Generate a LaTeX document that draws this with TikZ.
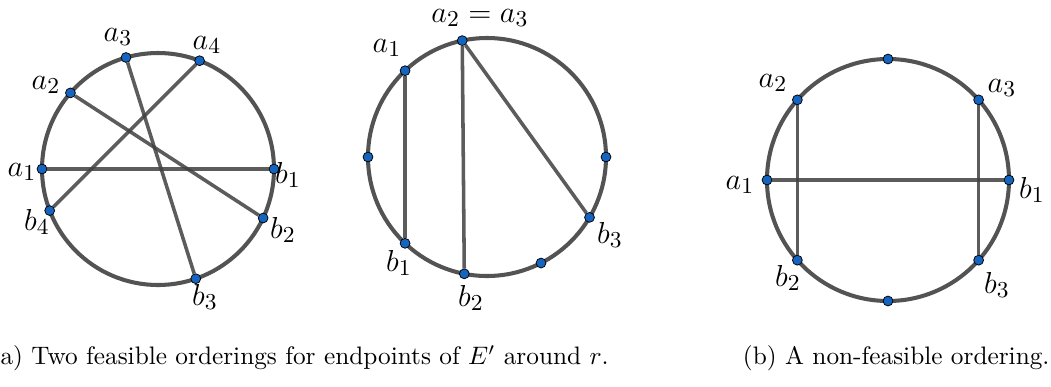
\documentclass[tikz,border=0pt]{standalone}
\usepackage{tikz}
\usetikzlibrary{calc}
\definecolor{rimgray}{RGB}{64,64,64}
\definecolor{dotblue}{RGB}{21,101,192}

\begin{document}
\begin{tikzpicture}[
    x=0.0139cm, y=0.0139cm,
    rim/.style={line width=1.6pt, draw=rimgray, opacity=0.9},
    chord/.style={line width=1.4pt, draw=rimgray, opacity=0.85},
    dot/.style={circle, draw=black, line width=0.3pt, fill=dotblue, inner sep=0pt, minimum size=3.9pt},
    lbl/.style={font=\fontsize{13}{15}\selectfont, inner sep=0pt},
    caption/.style={font=\normalsize, inner sep=0pt}
]
\useasboundingbox (0,0) rectangle (1051,386);

% left circle
\coordinate (L) at (158,217);
\draw[rim] (L) circle (116);
\node[dot] (La1) at ($(L)+(180:116)$) {};
\node[dot] (La2) at ($(L)+(139:116)$) {};
\node[dot] (La3) at ($(L)+(106:116)$) {};
\node[dot] (La4) at ($(L)+(69:116)$) {};
\node[dot] (Lb1) at ($(L)+(0:116)$) {};
\node[dot] (Lb2) at ($(L)+(335:116)$) {};
\node[dot] (Lb3) at ($(L)+(289:116)$) {};
\node[dot] (Lb4) at ($(L)+(201:116)$) {};
\draw[chord] (La1) -- (Lb1);
\draw[chord] (La2) -- (Lb2);
\draw[chord] (La3) -- (Lb3);
\draw[chord] (La4) -- (Lb4);
\node[lbl] (tLa1) at (22,214) {$a_1$};
\node[lbl] (tLa2) at (46,301) {$a_2$};
\node[lbl] (tLa3) at (118,349) {$a_3$};
\node[lbl] (tLa4) at (207,341) {$a_4$};
\node[lbl] (tLb1) at (288,211) {$b_1$};
\node[lbl] (tLb2) at (283,156) {$b_2$};
\node[lbl] (tLb3) at (205,89) {$b_3$};
\node[lbl] (tLb4) at (37,164) {$b_4$};

% middle circle
\coordinate (M) at (487,229);
\draw[rim] (M) circle (119);
\node[dot] (Ma1) at ($(M)+(133.5:119)$) {};
\node[dot] (Ma2) at ($(M)+(102:119)$) {};
\node[dot] (Mb1) at ($(M)+(226.5:119)$) {};
\node[dot] (Mb2) at ($(M)+(259:119)$) {};
\node[dot] (Mb3) at ($(M)+(329.5:119)$) {};
\node[dot] (Mw) at ($(M)+(180:119)$) {};
\node[dot] (Me) at ($(M)+(0:119)$) {};
\node[dot] (Ms) at ($(M)+(297:119)$) {};
\draw[chord] (Ma1) -- (Mb1);
\draw[chord] (Ma2) -- (Mb2);
\draw[chord] (Ma2) -- (Mb3);
\node[lbl] (tMa1) at (387,338) {$a_1$};
\node[lbl] (tMa2) at (480,368) {$a_2=a_3$};
\node[lbl] (tMb1) at (399,123) {$b_1$};
\node[lbl] (tMb2) at (471,88) {$b_2$};
\node[lbl] (tMb3) at (610,151) {$b_3$};

% right circle
\coordinate (R) at (888,206);
\draw[rim] (R) circle (121);
\node[dot] (Ra1) at ($(R)+(180:121)$) {};
\node[dot] (Ra2) at ($(R)+(138.5:121)$) {};
\node[dot] (Ra3) at ($(R)+(41.5:121)$) {};
\node[dot] (Rb1) at ($(R)+(0:121)$) {};
\node[dot] (Rb2) at ($(R)+(221.5:121)$) {};
\node[dot] (Rb3) at ($(R)+(318.5:121)$) {};
\node[dot] (Rn) at ($(R)+(90:121)$) {};
\node[dot] (Rs) at ($(R)+(270:121)$) {};
\draw[chord] (Ra1) -- (Rb1);
\draw[chord] (Ra2) -- (Rb2);
\draw[chord] (Ra3) -- (Rb3);
\node[lbl] (tRa1) at (740,201) {$a_1$};
\node[lbl] (tRa2) at (773,303) {$a_2$};
\node[lbl] (tRa3) at (1002,298) {$a_3$};
\node[lbl] (tRb1) at (1032,196) {$b_1$};
\node[lbl] (tRb2) at (788,108) {$b_2$};
\node[lbl] (tRb3) at (997,101) {$b_3$};

% captions
\node[caption, anchor=west] (capa) at (0,28) {a) Two feasible orderings for endpoints of $E'$ around $r$.};
\node[caption, anchor=east] (capb) at (1050,28) {(b) A non-feasible ordering.};
\end{tikzpicture}
\end{document}
